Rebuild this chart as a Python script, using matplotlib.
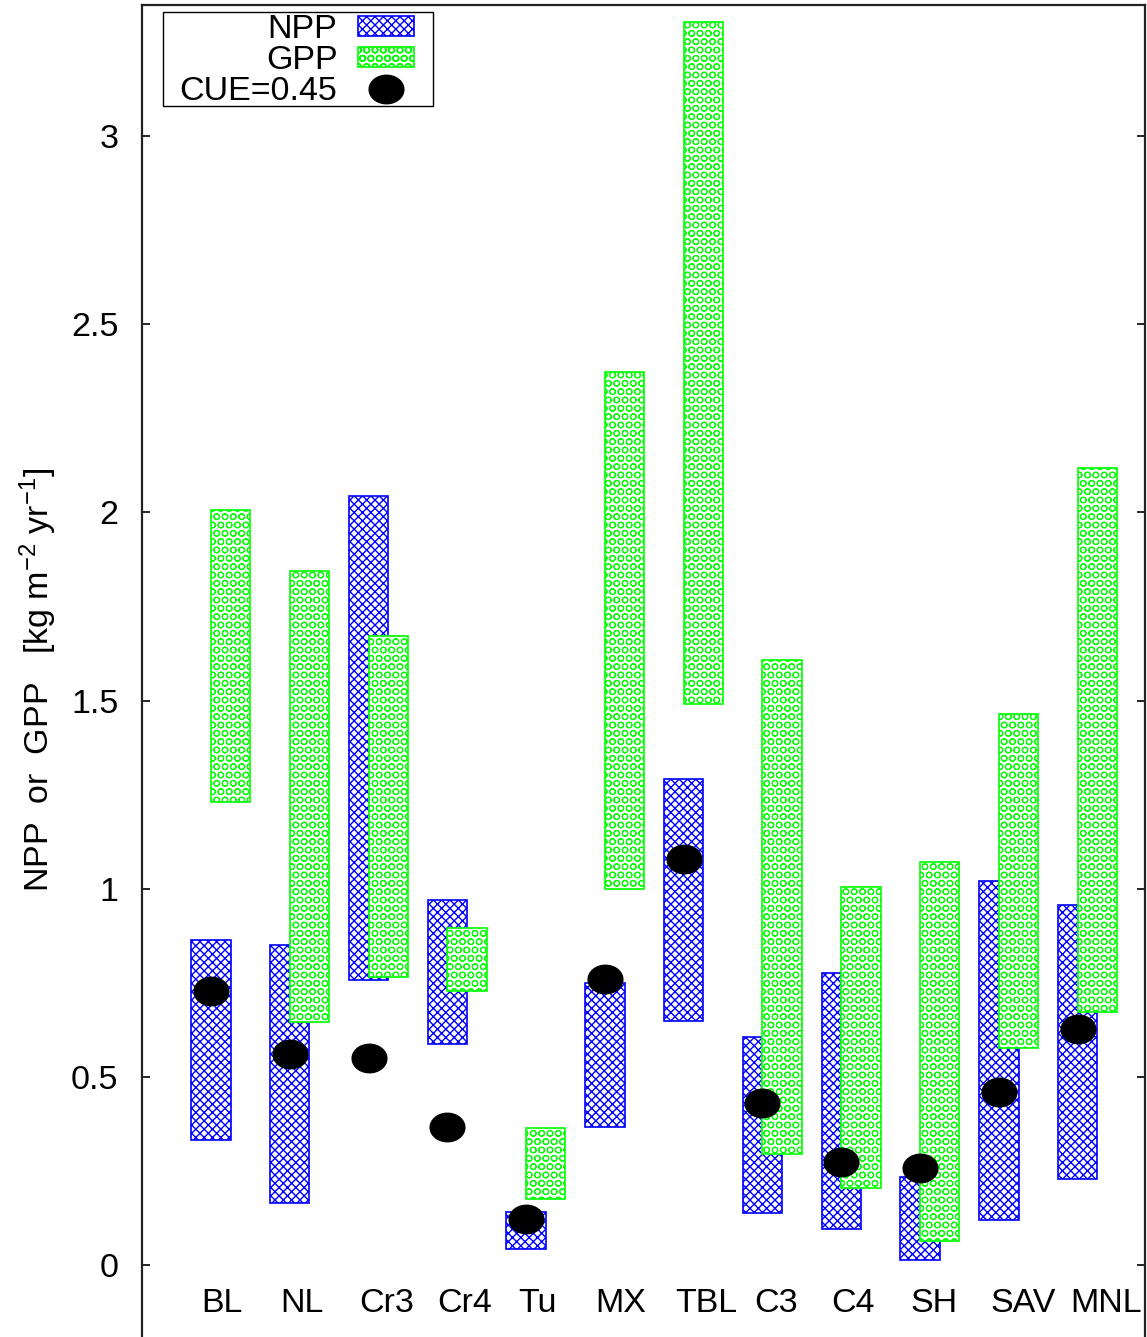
import matplotlib
matplotlib.use("Agg")
import matplotlib.pyplot as plt
from matplotlib.path import Path
from matplotlib.patches import Rectangle
import numpy as np

plt.rcParams['font.family'] = ['Liberation Sans', 'DejaVu Sans']
plt.rcParams['mathtext.fontset'] = 'custom'
plt.rcParams['mathtext.rm'] = 'Liberation Sans'
plt.rcParams['mathtext.it'] = 'Liberation Sans'
plt.rcParams['hatch.linewidth'] = 1.0

# plant functional types
pft = ['BL', 'NL', 'Cr3', 'Cr4', 'Tu', 'MX', 'TBL', 'C3', 'C4', 'SH', 'SAV', 'MNL']
# label positions are a little off-centre in the original
lab_x = [1.01, 2.03, 3.11, 4.10, 5.02, 6.08, 7.16, 8.05, 9.03, 10.05, 11.18, 12.23]

npp_low = [0.332, 0.165, 0.757, 0.587, 0.043, 0.367, 0.648, 0.138, 0.096, 0.013, 0.120, 0.229]
npp_high = [0.864, 0.850, 2.044, 0.970, 0.141, 0.749, 1.291, 0.606, 0.776, 0.234, 1.020, 0.957]
gpp_low = [1.230, 0.646, 0.765, 0.728, 0.175, 0.999, 1.491, 0.295, 0.205, 0.064, 0.577, 0.672]
gpp_high = [2.006, 1.844, 1.672, 0.896, 0.364, 2.373, 3.303, 1.608, 1.005, 1.071, 1.464, 2.118]
cue_pt = [0.728, 0.561, 0.550, 0.367, 0.122, 0.760, 1.079, 0.430, 0.274, 0.258, 0.460, 0.627]

yticks = [0, 0.5, 1, 1.5, 2, 2.5, 3]
ytick_labels = ['0', '0.5', '1', '1.5', '2', '2.5', '3']

FS = 24.5
W, H = 1147, 1337
fig = plt.figure(figsize=(W / 100, H / 100), dpi=100)
ax = fig.add_axes([142 / W, 0, (1145 - 142) / W, 1 - 5 / H])

x = np.arange(1, len(pft) + 1)
npp_low = np.array(npp_low)
npp_high = np.array(npp_high)
gpp_low = np.array(gpp_low)
gpp_high = np.array(gpp_high)

b1 = ax.bar(x - 0.125, npp_high - npp_low, bottom=npp_low, width=0.5,
            color='white', edgecolor='#0000ff', hatch='xxxx', linewidth=1.2,
            label='NPP', zorder=2)
with plt.rc_context({'hatch.linewidth': 0.75}):
    b2 = ax.bar(x + 0.125, gpp_high - gpp_low, bottom=gpp_low, width=0.5,
                color='white', edgecolor='#00ff00', hatch='OO', linewidth=1.2,
                label='GPP', zorder=3)

# slightly flattened circle as marker
t = np.linspace(0, 2 * np.pi, 60)
ell = Path(np.column_stack([np.cos(t), 0.82 * np.sin(t)]), closed=True)
m, = ax.plot(x - 0.125, cue_pt, ls='none', marker=ell, ms=25, color='black',
             label='CUE=0.45', zorder=4)

ax.set_xlim(0, 12.73)
ax.set_ylim(-0.191, 3.348)
ax.set_yticks(yticks)
ax.set_yticklabels(ytick_labels, fontsize=FS)
ax.set_xticks([])
ax.tick_params(axis='y', direction='in', length=6, width=1.2, pad=17,
               right=True)
ax.spines['bottom'].set_visible(False)
for s in ['left', 'right', 'top']:
    ax.spines[s].set_linewidth(1.6)
    ax.spines[s].set_color('#222222')

for xi, name in zip(lab_x, pft):
    ax.text(xi, -0.103, name, ha='center', va='center', fontsize=FS)

fig.text(38 / W, 1 - 680 / H,
         r'NPP  or  GPP   [kg m$^{-2}$ yr$^{-1}$]',
         rotation=90, ha='center', va='center', fontsize=FS)

leg = ax.legend([b1, b2, m], ['NPP', 'GPP', 'CUE=0.45'],
                loc='upper right', bbox_to_anchor=(414 / W, 1 - 14 / H),
                bbox_transform=fig.transFigure, borderaxespad=0,
                markerfirst=False, fontsize=FS, labelspacing=0.0,
                handlelength=1.65, handleheight=0.55, handletextpad=0.6,
                borderpad=0.0, frameon=False)
leg.set_zorder(6)
ax.add_patch(Rectangle((163 / W, 1 - 106 / H), (433 - 163) / W,
                       (106 - 12) / H, transform=fig.transFigure,
                       facecolor='white', edgecolor='black', lw=1.0,
                       zorder=5, clip_on=False))

fig.savefig('out.png', dpi=100)
